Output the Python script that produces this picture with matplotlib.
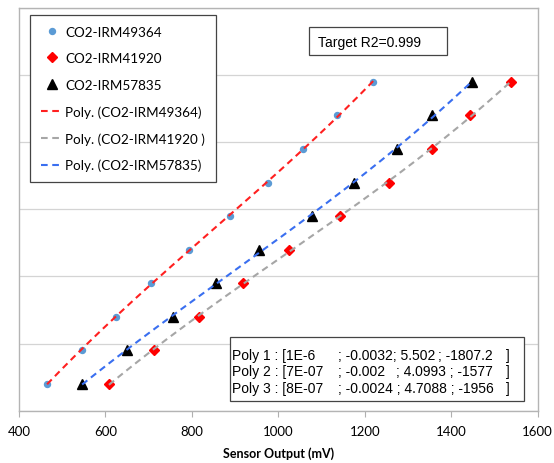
import matplotlib
matplotlib.use('Agg')
from matplotlib import pyplot as plt
from matplotlib.patches import Rectangle
import numpy as np

# data (x = sensor output mV, y = reference level, axis labels hidden)
y_levels = [160, 360, 560, 760, 960, 1160, 1360, 1560, 1760, 1960]
x_49364 = [465, 545, 624, 705, 793, 889, 977, 1056, 1136, 1220]
x_41920 = [608, 712, 816, 919, 1024, 1143, 1257, 1355, 1444, 1538]
x_57835 = [546, 650, 756, 856, 956, 1077, 1176, 1274, 1355, 1449]

names = ['CO2-IRM49364', 'CO2-IRM41920', 'CO2-IRM57835']
trend_names = ['Poly. (CO2-IRM49364)', 'Poly. (CO2-IRM41920 )', 'Poly. (CO2-IRM57835)']

poly_lines = [
    [('Poly 1 : [1E-6', 232), ('; -0.0032; 5.502', 338), ('; -1807.2', 438), (']', 506)],
    [('Poly 2 : [7E-07', 232), ('; -0.002', 338), ('; 4.0993 ; -1577', 396), (']', 506)],
    [('Poly 3 : [8E-07', 232), ('; -0.0024 ; 4.7088 ; -1956', 338), (']', 506)],
]

W, H = 554, 464
fig = plt.figure(figsize=(W / 100, H / 100), dpi=100)
ax = fig.add_axes([19 / W, 1 - 411.7 / H, 518.7 / W, 402.7 / H])


def fx(x):
    return x / W


def fy(y):
    return 1 - y / H


calibri = 'Lato'
arial = 'Liberation Sans'

h1, = ax.plot(x_49364, y_levels, 'o', color='#5b9bd5', markersize=4.3, zorder=3)
h2, = ax.plot(x_41920, y_levels, 'D', color='#ff0000', markersize=5.5, zorder=3)
h3, = ax.plot(x_57835, y_levels, '^', color='black', markersize=6.5, zorder=3)

# cubic trendlines fitted to each series
trends = []
for xs, col in [(x_49364, '#ff2020'), (x_41920, '#a6a6a6'), (x_57835, '#3a6ff0')]:
    c = np.polyfit(xs, y_levels, 3)
    xx = np.linspace(min(xs), max(xs), 200)
    t, = ax.plot(xx, np.polyval(c, xx), color=col, lw=1.5, dashes=(3.2, 2.2), zorder=4)
    trends.append(t)

ax.set_xlim(400, 1600)
ax.set_ylim(0, 2400)
ax.set_xticks(range(400, 1601, 200))
ax.set_yticks(range(0, 2401, 400))
ax.set_yticklabels([])
ax.tick_params(axis='y', length=0)
ax.tick_params(axis='x', length=4, color='#b0b0b0', labelsize=9.5, pad=6)
for lab in ax.get_xticklabels():
    lab.set_fontfamily(calibri)
ax.grid(axis='y', color='#d4d4d4', lw=0.9)
ax.set_axisbelow(True)
for s in ax.spines.values():
    s.set_color('#b4b4b4')
    s.set_linewidth(1.0)

ax.set_xlabel('Sensor Output (mV)', fontsize=9, fontweight='bold', fontfamily=calibri, labelpad=7)

leg = ax.legend([h1, h2, h3] + trends, names + trend_names,
                loc='upper left', bbox_to_anchor=((30 - 19) / 518.7, (411.7 - 16) / 402.7),
                borderaxespad=0, fancybox=False, framealpha=1, edgecolor='#444444',
                prop={'family': calibri, 'size': 9.7}, handlelength=1.6,
                handletextpad=0.2, labelspacing=1.07, borderpad=0.8, numpoints=1)
leg.get_frame().set_linewidth(0.9)
leg.set_zorder(6)

# Target R2 box
fig.add_artist(Rectangle((fx(309.3), fy(56)), fx(447.3 - 309.3), (56 - 28.3) / H,
                         transform=fig.transFigure, facecolor='white', edgecolor='#444444', lw=0.9, zorder=6))
fig.text(fx(318), fy(43), 'Target R2=0.999', fontsize=10, family=arial, va='center', zorder=7)

# polynomial coefficients box
fig.add_artist(Rectangle((fx(229.7), fy(401.7)), fx(524 - 229.7), (401.7 - 338) / H,
                         transform=fig.transFigure, facecolor='white', edgecolor='#444444', lw=0.9, zorder=6))
for i, pieces in enumerate(poly_lines):
    yy = 355.7 + i * 16.7
    for txt, xpos in pieces:
        fig.text(fx(xpos), fy(yy), txt, fontsize=10, family=arial, va='center', zorder=7)

plt.savefig('out.png', dpi=100)
